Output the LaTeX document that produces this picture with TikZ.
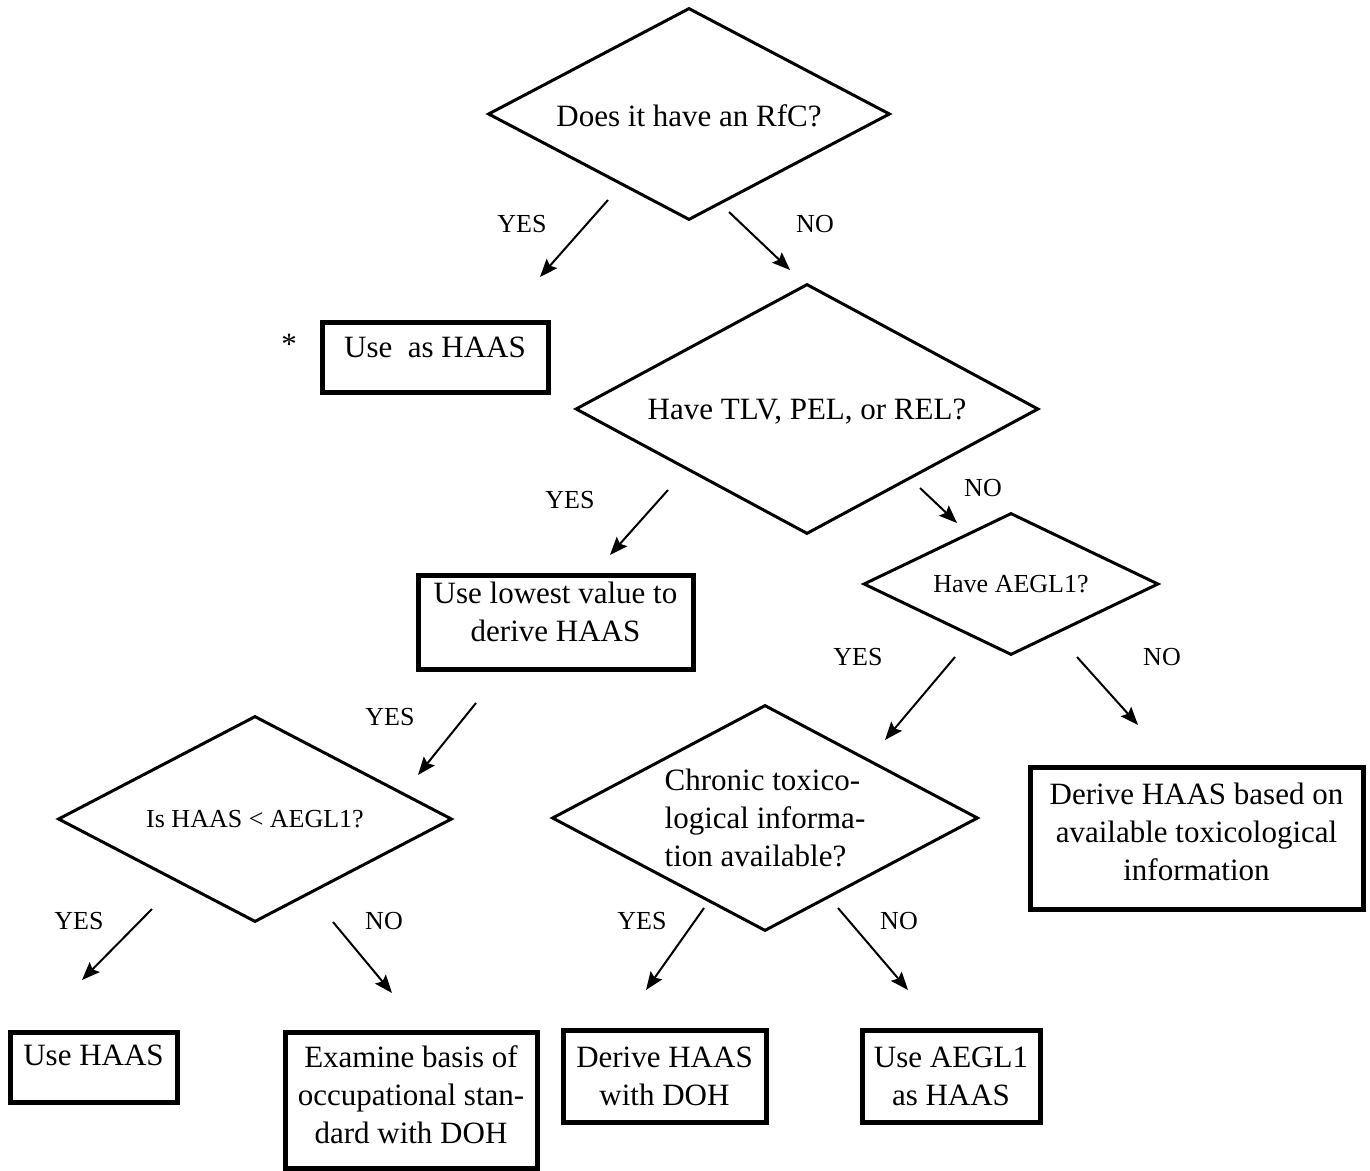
\documentclass[tikz,border=0pt]{standalone}
\usepackage{fontspec}
\setmainfont{Liberation Serif}
\usepackage{tikz}
\usetikzlibrary{shapes.geometric}
\usetikzlibrary{arrows.meta}
\newcommand{\haasbig}{\fontsize{15.5}{19}\selectfont}
\newcommand{\haassmall}{\fontsize{13}{16}\selectfont}
\tikzset{
	>={Stealth[length=9pt,width=7pt,inset=1.5pt]},
	question/.style={
		diamond,
		draw=black, line width=1.5pt,
		inner sep=0pt,
		align=center,
		font=\haasbig},
	answer/.style={
		rectangle,
		draw=black, line width=2.5pt,
		inner sep=0pt,
		align=center,
		anchor=north,
		font=\haasbig},
	line/.style={draw, line width=1pt, ->},
	choice/.style={font=\haassmall, inner sep=0pt},
}

\begin{document}
\begin{tikzpicture}
		[x=0.5pt, y=-0.5pt]
	\useasboundingbox (0,0) rectangle (1370,1171);
	% questions
	\node[question, minimum width=201pt, minimum height=106pt, aspect=1.9, text height=13pt] (rfc) at (689,114) {Does it have an RfC?};
	\node[question, minimum width=231.5pt, minimum height=125pt, aspect=1.85, text height=13pt] (tlv) at (807,409) {Have TLV, PEL, or REL?};
	\node[question, minimum width=147.5pt, minimum height=71pt, aspect=2.08, font=\haassmall] (aegl) at (1011,584) {Have AEGL1?};
	\node[question, minimum width=197pt, minimum height=103pt, aspect=1.91, font=\haassmall] (ishaas) at (255,819) {Is HAAS < AEGL1?};
	\node[question, minimum width=213pt, minimum height=113pt, aspect=1.88, align=left] (chronic) at (765,818) {Chronic toxico-\\logical informa-\\tion available?};
	
	% answers
	\node[answer, minimum width=113pt, text height=17.5pt, text depth=17.5pt] (useas) at (435,320) {Use\ \ as HAAS};
	\node[font=\haasbig] (star) at (289,344) {*};
	\node[answer, minimum width=137.5pt, text height=33pt, text depth=14pt] (lowest) at (555.5,573) {Use lowest value to\\derive HAAS};
	\node[answer, minimum width=166.5pt, text height=56.5pt, text depth=14.5pt] (basedon) at (1196.5,765) {Derive HAAS based on\\available toxicological\\information};
	\node[answer, minimum width=83.5pt, text height=16.5pt, text depth=18.5pt] (usehaas) at (93.5,1030) {Use HAAS};
	\node[answer, minimum width=126pt, text height=55.5pt, text depth=12.5pt] (examine) at (411,1030) {Examine basis of\\occupational stan-\\dard with DOH};
	\node[answer, minimum width=101.5pt, text height=37.5pt, text depth=8.5pt] (withdoh) at (664.5,1028) {Derive HAAS\\with DOH};
	\node[answer, minimum width=89pt, text height=37.5pt, text depth=8.5pt] (useaegl) at (951,1028) {Use AEGL1\\as HAAS};
	
	% yes / no
	\node[choice] (rfc-yes) at (522,224) {YES};
	\node[choice] (rfc-no) at (815,224) {NO};
	\node[choice] (tlv-yes) at (570,500) {YES};
	\node[choice] (tlv-no) at (983,488) {NO};
	\node[choice] (aegl-yes) at (858,657) {YES};
	\node[choice] (aegl-no) at (1162,657) {NO};
	\node[choice] (lowest-yes) at (390,717) {YES};
	\node[choice] (ishaas-yes) at (79,921) {YES};
	\node[choice] (ishaas-no) at (384,921) {NO};
	\node[choice] (chronic-yes) at (642,921) {YES};
	\node[choice] (chronic-no) at (899,921) {NO};
	
	% arrows
	\coordinate (rfc-y1) at (608,200);
	\coordinate (rfc-y2) at (540,277);
	\coordinate (rfc-n1) at (729,212);
	\coordinate (rfc-n2) at (790,270);
	\coordinate (tlv-y1) at (668,490);
	\coordinate (tlv-y2) at (610,555);
	\coordinate (tlv-n1) at (920,488);
	\coordinate (tlv-n2) at (957,523);
	\coordinate (aegl-y1) at (955,657);
	\coordinate (aegl-y2) at (885,740);
	\coordinate (aegl-n1) at (1077,657);
	\coordinate (aegl-n2) at (1138,725);
	\coordinate (lowest-y1) at (476,703);
	\coordinate (lowest-y2) at (418,775);
	\coordinate (ishaas-y1) at (152,909);
	\coordinate (ishaas-y2) at (82,980);
	\coordinate (ishaas-n1) at (333,922);
	\coordinate (ishaas-n2) at (392,993);
	\coordinate (chronic-y1) at (704,908);
	\coordinate (chronic-y2) at (646,990);
	\coordinate (chronic-n1) at (838,908);
	\coordinate (chronic-n2) at (908,990);
	\draw[line] (rfc-y1) -- (rfc-y2);
	\draw[line] (rfc-n1) -- (rfc-n2);
	\draw[line] (tlv-y1) -- (tlv-y2);
	\draw[line] (tlv-n1) -- (tlv-n2);
	\draw[line] (aegl-y1) -- (aegl-y2);
	\draw[line] (aegl-n1) -- (aegl-n2);
	\draw[line] (lowest-y1) -- (lowest-y2);
	\draw[line] (ishaas-y1) -- (ishaas-y2);
	\draw[line] (ishaas-n1) -- (ishaas-n2);
	\draw[line] (chronic-y1) -- (chronic-y2);
	\draw[line] (chronic-n1) -- (chronic-n2);
\end{tikzpicture}
\end{document}
